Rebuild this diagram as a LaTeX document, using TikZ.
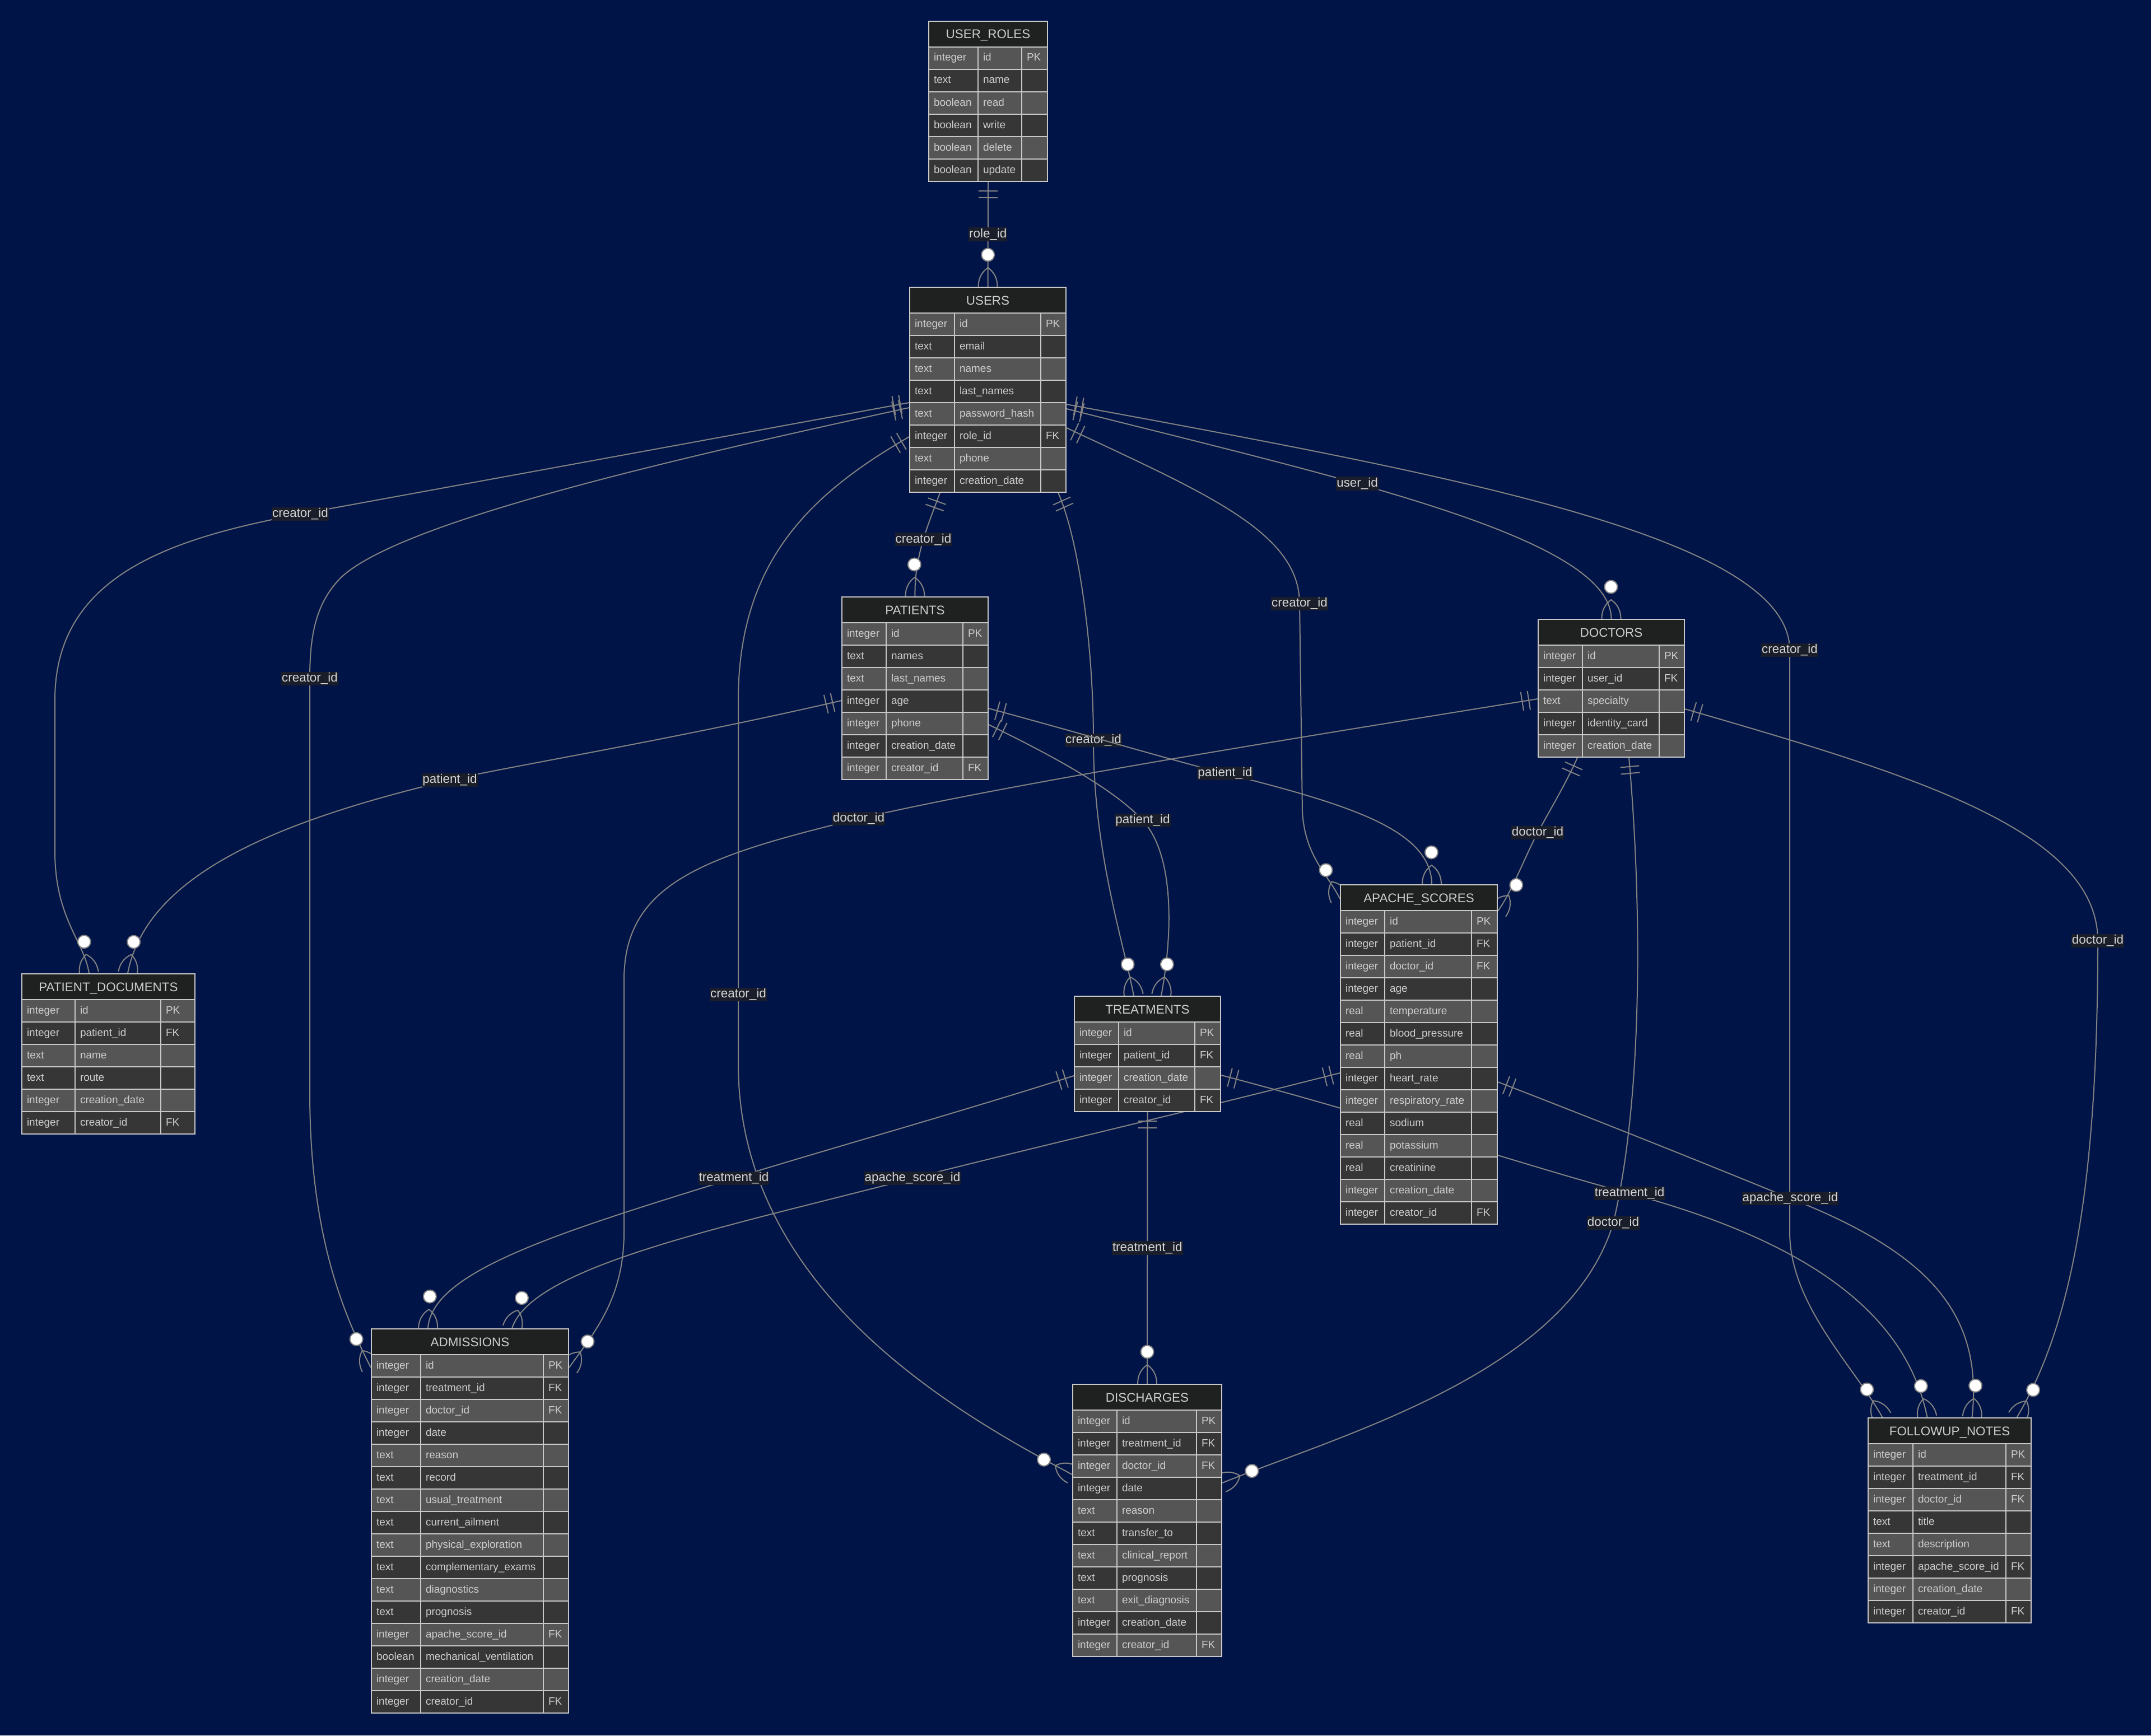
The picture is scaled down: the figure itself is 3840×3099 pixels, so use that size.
\documentclass[tikz,border=0pt]{standalone}
\usepackage{fontspec}
\setmainfont{Liberation Sans}

\definecolor{bgnavy}{RGB}{1,20,71}
\definecolor{headfill}{RGB}{31,32,32}
\definecolor{rowodd}{RGB}{85,85,85}
\definecolor{roweven}{RGB}{54,54,54}
\definecolor{erline}{RGB}{200,200,200}
\definecolor{ertext}{RGB}{206,206,206}
\definecolor{relline}{RGB}{130,130,130}
\definecolor{labfill}{RGB}{26,30,42}
\definecolor{labtext}{RGB}{214,214,214}

\pgfdeclarelayer{bgl}
\pgfdeclarelayer{edgel}
\pgfsetlayers{bgl,edgel,main}

\pgfdeclarearrow{
  name = erone,
  parameters = {\the\pgflinewidth},
  setup code = {
    \pgfarrowssettipend{0pt}
    \pgfarrowssetlineend{0pt}
    \pgfarrowssetbackend{-30pt}
    \pgfarrowsupperhullpoint{-30pt}{18pt}
    \pgfarrowsupperhullpoint{0pt}{18pt}
  },
  drawing code = {
    \pgfsetbuttcap
    \pgfpathmoveto{\pgfqpoint{-16pt}{-17pt}}
    \pgfpathlineto{\pgfqpoint{-16pt}{17pt}}
    \pgfpathmoveto{\pgfqpoint{-28pt}{-17pt}}
    \pgfpathlineto{\pgfqpoint{-28pt}{17pt}}
    \pgfusepathqstroke
  }
}

\pgfdeclarearrow{
  name = ermany,
  parameters = {\the\pgflinewidth},
  setup code = {
    \pgfarrowssettipend{0pt}
    \pgfarrowssetlineend{0pt}
    \pgfarrowssetbackend{-70pt}
    \pgfarrowsupperhullpoint{-70pt}{18pt}
    \pgfarrowsupperhullpoint{0pt}{18pt}
  },
  drawing code = {
    \pgfsetroundjoin
    \pgfpathmoveto{\pgfqpoint{0pt}{17pt}}
    \pgfpathcurveto{\pgfqpoint{-14.7pt}{17pt}}{\pgfqpoint{-26pt}{11.3pt}}{\pgfqpoint{-34pt}{0pt}}
    \pgfpathcurveto{\pgfqpoint{-26pt}{-11.3pt}}{\pgfqpoint{-14.7pt}{-17pt}}{\pgfqpoint{0pt}{-17pt}}
    \pgfusepathqstroke
    \pgfpathcircle{\pgfqpoint{-57pt}{0pt}}{11.5pt}
    \pgfsetfillcolor{white}
    \pgfusepathqfillstroke
  }
}

\newcommand{\ertable}[8]{%
  \pgfmathsetmacro\ertw{#4+#5+#6}%
  \pgfmathsetmacro\erwa{#4-18}%
  \pgfmathsetmacro\erwb{#5-18}%
  \pgfmathsetmacro\erwc{#6-18}%
  \node[erhead, minimum width=\ertw pt] (#1-h) at (#2,#3) {#7};
  \foreach \ty/\fd/\ky [count=\ri] in {#8}{
    \ifodd\ri \def\errf{rowodd}\else\def\errf{roweven}\fi
    \pgfmathsetmacro\erry{#3+46+(\ri-1)*40}
    \node[ercell, fill=\errf, text width=\erwa pt] (#1-t\ri) at (#2,\erry) {\ty};
    \node[ercell, fill=\errf, text width=\erwb pt] (#1-f\ri) at (#2+#4,\erry) {\fd};
    \node[ercell, fill=\errf, text width=\erwc pt] (#1-k\ri) at (#2+#4+#5,\erry) {\ky};
    \xdef\ernrows{\ri}
  }
  \pgfmathsetmacro\erth{46+\ernrows*40}%
  \node[erframe, minimum width=\ertw pt, minimum height=\erth pt] (#1) at (#2,#3) {};
}

\begin{document}
\begin{tikzpicture}[
  x=1pt, y=-1pt,
  erhead/.style={draw=erline, line width=2pt, fill=headfill, text=ertext,
                 font=\fontsize{22.4}{26}\selectfont, minimum height=46pt,
                 inner sep=0pt, text height=16pt, text depth=0pt, anchor=north west},
  ercell/.style={draw=erline, line width=2pt, text=ertext,
                 font=\fontsize{19}{22}\selectfont, minimum height=40pt,
                 inner xsep=9pt, inner ysep=0pt, text height=14pt, text depth=4pt,
                 align=left, anchor=north west},
  erframe/.style={draw=erline, line width=2pt, inner sep=0pt, anchor=north west},
  lab/.style={fill=labfill, text=labtext, font=\fontsize{22.4}{26}\selectfont,
              inner xsep=1pt, inner ysep=2pt},
  rel/.style={draw=relline, line width=2pt, erone-ermany}
]
\useasboundingbox (0,0) rectangle (3840,3099);
\begin{pgfonlayer}{bgl}
\fill[bgnavy] (0,0) rectangle (3840,3099);
\end{pgfonlayer}

\ertable{roles}{1657}{37}{88}{78}{46}{USER\_ROLES}{integer/id/PK, text/name/, boolean/read/,
  boolean/write/, boolean/delete/, boolean/update/}
\ertable{users}{1623}{512}{80}{154}{45}{USERS}{integer/id/PK, text/email/, text/names/,
  text/last\_names/, text/password\_hash/, integer/role\_id/FK, text/phone/, integer/creation\_date/}
\ertable{patients}{1502}{1065}{79}{137}{45}{PATIENTS}{integer/id/PK, text/names/, text/last\_names/,
  integer/age/, integer/phone/, integer/creation\_date/, integer/creator\_id/FK}
\ertable{doctors}{2745}{1105}{79}{137}{45}{DOCTORS}{integer/id/PK, integer/user\_id/FK,
  text/specialty/, integer/identity\_card/, integer/creation\_date/}
\ertable{apache}{2392}{1579}{79}{155}{46}{APACHE\_SCORES}{integer/id/PK, integer/patient\_id/FK,
  integer/doctor\_id/FK, integer/age/, real/temperature/, real/blood\_pressure/, real/ph/,
  integer/heart\_rate/, integer/respiratory\_rate/, real/sodium/, real/potassium/,
  real/creatinine/, integer/creation\_date/, integer/creator\_id/FK}
\ertable{pdocs}{38}{1738}{95}{153}{61}{PATIENT\_DOCUMENTS}{integer/id/PK, integer/patient\_id/FK,
  text/name/, text/route/, integer/creation\_date/, integer/creator\_id/FK}
\ertable{treat}{1917}{1778}{79}{136}{46}{TREATMENTS}{integer/id/PK, integer/patient\_id/FK,
  integer/creation\_date/, integer/creator\_id/FK}
\ertable{adm}{662}{2372}{88}{219}{45}{ADMISSIONS}{integer/id/PK, integer/treatment\_id/FK,
  integer/doctor\_id/FK, integer/date/, text/reason/, text/record/, text/usual\_treatment/,
  text/current\_ailment/, text/physical\_exploration/, text/complementary\_exams/,
  text/diagnostics/, text/prognosis/, integer/apache\_score\_id/FK,
  boolean/mechanical\_ventilation/, integer/creation\_date/, integer/creator\_id/FK}
\ertable{dis}{1914}{2471}{79}{142}{45}{DISCHARGES}{integer/id/PK, integer/treatment\_id/FK,
  integer/doctor\_id/FK, integer/date/, text/reason/, text/transfer\_to/, text/clinical\_report/,
  text/prognosis/, text/exit\_diagnosis/, integer/creation\_date/, integer/creator\_id/FK}
\ertable{fnotes}{3334}{2531}{80}{166}{45}{FOLLOWUP\_NOTES}{integer/id/PK, integer/treatment\_id/FK,
  integer/doctor\_id/FK, text/title/, text/description/, integer/apache\_score\_id/FK,
  integer/creation\_date/, integer/creator\_id/FK}

\begin{pgfonlayer}{edgel}
\draw[rel] (roles.south) -- node[lab]{role\_id} (users.north);
\draw[rel] ([xshift=-85.5pt]users.south) .. controls (1660,930) and (1632,990) .. node[lab]{creator\_id} (patients.north);
\draw[rel] ([yshift=-34pt]users.east) .. controls (2400,855) and (2875,960) .. node[lab, pos=0.37]{user\_id} (doctors.north);
\draw[rel] ([yshift=-23pt]users.west) .. controls (1100,815) and (700,888) .. (536,918) node[lab]{creator\_id}
  .. controls (300,962) and (98,1030) .. (98,1250) -- (98,1520) .. controls (98,1640) and (150,1680) .. ([xshift=-34.5pt]pdocs.north);
\draw[rel] ([yshift=-32pt]users.west) .. controls (1200,820) and (720,930) .. (610,1030) .. controls (565,1075) and (553,1130) .. (553,1212) node[lab]{creator\_id}
  -- (553,1950) .. controls (553,2200) and (610,2340) .. ([yshift=-70pt]adm.north west);
\draw[rel] ([yshift=-84pt]users.west) .. controls (1450,880) and (1318,1000) .. (1318,1250) -- (1318,1776) node[lab]{creator\_id}
  -- (1318,1900) .. controls (1318,2300) and (1700,2520) .. ([yshift=-162pt]dis.north west);
\draw[rel] ([xshift=125.5pt]users.south) .. controls (1925,960) and (1952,1150) .. (1952,1322) node[lab]{creator\_id}
  .. controls (1952,1520) and (2005,1680) .. ([xshift=-24.5pt]treat.north);
\draw[rel] ([yshift=-68pt]users.east) .. controls (2150,880) and (2320,950) .. (2320,1078) node[lab]{creator\_id}
  -- (2325,1450) .. controls (2330,1530) and (2370,1560) .. ([yshift=-26pt]apache.north west);
\draw[rel] ([yshift=-26pt]users.east) .. controls (2600,850) and (3195,960) .. (3195,1161) node[lab]{creator\_id}
  -- (3195,2200) .. controls (3195,2330) and (3310,2440) .. ([xshift=-120pt]fnotes.north);
\draw[rel] ([yshift=-22pt]patients.west) .. controls (1200,1321) and (900,1370) .. (803,1393) node[lab]{patient\_id}
  .. controls (500,1465) and (262,1560) .. ([xshift=34.5pt]pdocs.north);
\draw[rel] ([yshift=-36pt]patients.east) .. controls (1950,1315) and (2100,1360) .. (2187,1381) node[lab]{patient\_id}
  .. controls (2400,1435) and (2555,1480) .. ([xshift=23pt]apache.north);
\draw[rel] ([yshift=-65pt]patients.east) .. controls (1880,1350) and (1990,1410) .. (2040,1465) node[lab]{patient\_id}
  .. controls (2095,1525) and (2095,1660) .. ([xshift=24.5pt]treat.north);
\draw[rel] ([yshift=-19pt]doctors.west) .. controls (2300,1320) and (1800,1400) .. (1533,1462) node[lab]{doctor\_id}
  .. controls (1250,1530) and (1114,1580) .. (1114,1750) -- (1114,2200) .. controls (1114,2320) and (1060,2380) .. ([yshift=-70pt]adm.north east);
\draw[rel] ([xshift=-60.5pt]doctors.south) .. controls (2795,1400) and (2765,1450) .. (2745,1487) node[lab]{doctor\_id}
  .. controls (2720,1535) and (2700,1590) .. ([yshift=-48pt]apache.north east);
\draw[rel] ([xshift=31.5pt]doctors.south) .. controls (2930,1600) and (2935,1950) .. (2880,2184) node[lab]{doctor\_id}
  .. controls (2800,2450) and (2400,2560) .. ([yshift=-177pt]dis.north east);
\draw[rel] ([yshift=-37pt]doctors.east) .. controls (3400,1380) and (3745,1480) .. (3745,1680) node[lab]{doctor\_id}
  .. controls (3745,2150) and (3690,2380) .. ([xshift=120pt]fnotes.north);
\draw[rel] ([yshift=-39pt]treat.west) .. controls (1700,1990) and (1450,2060) .. (1310,2104) node[lab]{treatment\_id}
  .. controls (1000,2200) and (770,2270) .. ([xshift=-75pt]adm.north);
\draw[rel] (treat.south) -- node[lab]{treatment\_id} (dis.north);
\draw[rel] ([yshift=-38pt]treat.east) .. controls (2450,1990) and (2750,2090) .. (2909,2131) node[lab]{treatment\_id}
  .. controls (3200,2210) and (3400,2330) .. ([xshift=-40pt]fnotes.north);
\draw[rel] ([yshift=-33pt]apache.west) .. controls (2100,1990) and (1800,2060) .. (1629,2104) node[lab]{apache\_score\_id}
  .. controls (1300,2190) and (950,2260) .. ([xshift=75pt]adm.north);
\draw[rel] ([yshift=-49pt]apache.east) .. controls (2850,2000) and (3050,2080) .. (3196,2140) node[lab]{apache\_score\_id}
  .. controls (3450,2240) and (3540,2350) .. ([xshift=40pt]fnotes.north);
\end{pgfonlayer}
\end{tikzpicture}
\end{document}
